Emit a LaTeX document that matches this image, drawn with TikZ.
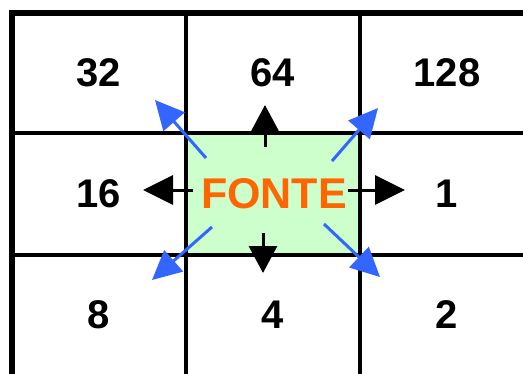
\documentclass[tikz,border=0pt]{standalone}
\usepackage{fontspec}
\setmainfont{Liberation Sans}
\usetikzlibrary{arrows.meta}
\definecolor{fontegreen}{HTML}{CCFFCC}
\definecolor{fonteorange}{HTML}{FF6600}
\definecolor{arrowblue}{HTML}{3366FF}
\begin{document}
\begin{tikzpicture}[x=1pt,y=-1pt,
  num/.style={font=\bfseries\fontsize{40}{48}\selectfont, inner sep=0pt},
  src/.style={font=\bfseries\fontsize{43}{50}\selectfont, text=fonteorange, inner sep=0pt},
  inner line/.style={line width=3.5pt, black},
  outer line/.style={line width=6pt, black},
  blackarrow/.style={line width=3pt, black, -{Triangle[length=27pt,width=28pt]}},
  blackarrowh/.style={line width=3pt, black, -{Triangle[length=30pt,width=29pt]}},
  bluearrow/.style={line width=3pt, arrowblue, -{Triangle[length=29pt,width=28pt]}}]
\useasboundingbox (0,0) rectangle (523,373);
\fill[white] (0,0) rectangle (523,373);
\fill[fontegreen] (186,133) rectangle (360,255);
\draw[inner line] (186,13) -- (186,380);
\draw[inner line] (360,13) -- (360,380);
\draw[inner line] (12,133) -- (530,133);
\draw[inner line] (12,255) -- (530,255);
\draw[outer line] (12,380) -- (12,13) -- (530,13);

\node[num] (n32) at (99,73) {32};
\node[num] (n64) at (273,73) {64};
\node[num] (n128) at (447,73) {128};
\node[num] (n16) at (99,194) {16};
\node[num] (n1) at (447,194) {1};
\node[num] (n8) at (99,315) {8};
\node[num] (n4) at (273,315) {4};
\node[num] (n2) at (447,315) {2};
\node[src] (fonte) at (274,194) {FONTE};

\coordinate (upS) at (265,147);   \coordinate (upE) at (265,105);
\coordinate (dnS) at (263,233);   \coordinate (dnE) at (263,273);
\coordinate (lfS) at (193,190);   \coordinate (lfE) at (143,190);
\coordinate (rtS) at (348,190);   \coordinate (rtE) at (405,190);
\coordinate (nwS) at (206,158);   \coordinate (nwE) at (155,100);
\coordinate (neS) at (332,161);   \coordinate (neE) at (378,108);
\coordinate (swS) at (212,227);   \coordinate (swE) at (152,280);
\coordinate (seS) at (324,224);   \coordinate (seE) at (380,277);

\draw[blackarrow] (upS) -- (upE);
\draw[blackarrow] (dnS) -- (dnE);
\draw[blackarrowh] (lfS) -- (lfE);
\draw[blackarrowh] (rtS) -- (rtE);
\draw[bluearrow] (nwS) -- (nwE);
\draw[bluearrow] (neS) -- (neE);
\draw[bluearrow] (swS) -- (swE);
\draw[bluearrow] (seS) -- (seE);
\end{tikzpicture}
\end{document}
